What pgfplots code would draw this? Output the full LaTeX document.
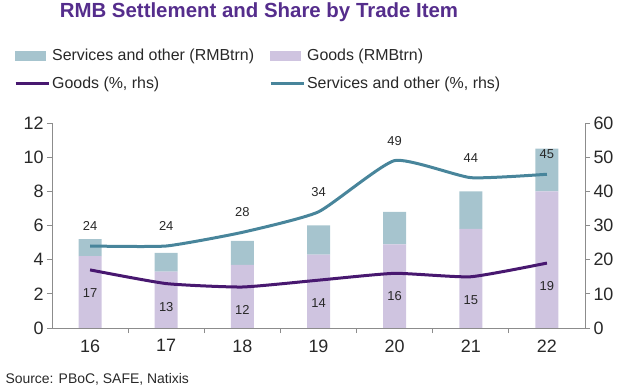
\documentclass[border=0pt]{standalone}
\usepackage{pgfplots}
\pgfplotsset{compat=1.18}
\usepackage{fontspec}
\setmainfont{Liberation Sans}
\definecolor{titlec}{RGB}{85,45,140}
\definecolor{sbar}{RGB}{166,196,206}
\definecolor{gbar}{RGB}{207,196,224}
\definecolor{sline}{RGB}{72,133,155}
\definecolor{gline}{RGB}{72,24,112}
\definecolor{txt}{RGB}{40,40,40}
\definecolor{axc}{RGB}{140,140,140}
\pgfplotsset{/pgf/number format/assume math mode=true}
\begin{document}
\begin{tikzpicture}
\useasboundingbox (0,0) rectangle (640bp,385bp);
\node[font=\bfseries\fontsize{20.5}{24}\selectfont, text=titlec] at (259bp,373bp) {RMB Settlement and Share by Trade Item};
\node[font=\fontsize{14}{16}\selectfont, text=txt, anchor=base west] at (2bp,2bp) {Source: PBoC, SAFE, Natixis};
\begin{axis}[
  at={(52bp,57bp)}, anchor=south west,
  scale only axis, width=533bp, height=205bp,
  xmin=-0.5, xmax=6.5, ymin=0, ymax=12,
  axis x line*=bottom, axis y line*=left,
  axis line style={axc, line width=0.8bp},
  xtick={0,...,6}, xticklabels={16,17,18,19,20,21,22},
  major x tick style={draw=none},
  minor xtick={0.5,1.5,...,5.5},
  minor tick length=5bp,
  ytick={0,2,...,12},
  tick style={axc, line width=0.8bp},
  major tick length=5bp,
  tick align=outside,
  ticklabel style={font=\fontsize{18}{20}\selectfont, text=txt},
  xticklabel style={yshift=-3bp},
  ybar stacked, bar width=23bp,
  legend columns=2,
  legend style={at={(axis description cs:-0.077,1.38)}, anchor=north west,
    draw=none, fill=none, font=\fontsize{16}{19}\selectfont, text=txt,
    cells={anchor=west}, row sep=11bp,
    /tikz/every even column/.append style={column sep=13bp}},
]
\addplot[fill=gbar, draw=none, forget plot] coordinates {(0,4.2) (1,3.3) (2,3.7) (3,4.3) (4,4.9) (5,5.8) (6,8.0)};
\addplot[fill=sbar, draw=none, forget plot] coordinates {(0,1.0) (1,1.1) (2,1.4) (3,1.7) (4,1.9) (5,2.2) (6,2.5)};
\addlegendimage{legend image code/.code={\fill[sbar] (0bp,-4.5bp) rectangle (30bp,4.5bp);}}
\addlegendentry{Services and other (RMBtrn)}
\addlegendimage{legend image code/.code={\fill[gbar] (0bp,-4.5bp) rectangle (30bp,4.5bp);}}
\addlegendentry{Goods (RMBtrn)}
\addlegendimage{legend image code/.code={\draw[gline, line width=3bp] (0bp,0bp) -- (33bp,0bp);}}
\addlegendentry{Goods (\%, rhs)}
\addlegendimage{legend image code/.code={\draw[sline, line width=3bp] (0bp,0bp) -- (33bp,0bp);}}
\addlegendentry{Services and other (\%, rhs)}
\end{axis}
\begin{axis}[
  at={(52bp,57bp)}, anchor=south west,
  scale only axis, width=533bp, height=205bp,
  xmin=-0.5, xmax=6.5, ymin=0, ymax=60,
  axis x line=none, axis y line*=right,
  axis line style={axc, line width=0.8bp},
  ytick={0,10,...,60},
  tick style={axc, line width=0.8bp},
  major tick length=5bp,
  tick align=outside,
  ticklabel style={font=\fontsize{18}{20}\selectfont, text=txt},
]
\addplot[sline, line width=3bp, smooth, tension=0.3, nodes near coords,
  every node near coord/.append style={anchor=center, yshift=20bp, font=\fontsize{13}{15}\selectfont, text=txt}]
  coordinates {(0,24) (1,24) (2,28) (3,34) (4,49) (5,44) (6,45)};
\addplot[gline, line width=3bp, smooth, tension=0.3, nodes near coords,
  every node near coord/.append style={anchor=center, yshift=-23bp, font=\fontsize{13}{15}\selectfont, text=txt}]
  coordinates {(0,17) (1,13) (2,12) (3,14) (4,16) (5,15) (6,19)};
\end{axis}
\end{tikzpicture}
\end{document}
